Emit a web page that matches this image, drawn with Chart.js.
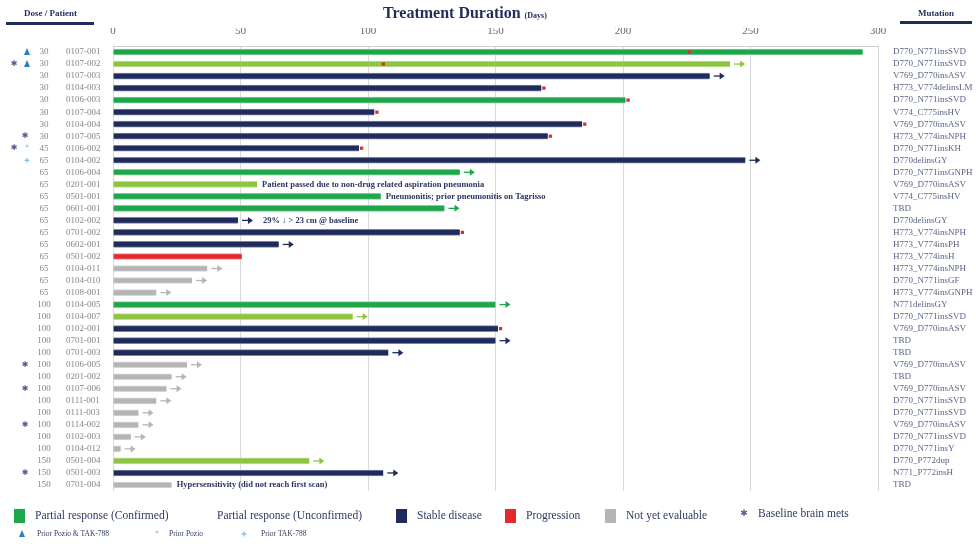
<!DOCTYPE html>
<html>
<head>
<meta charset="utf-8">
<script src="https://cdn.jsdelivr.net/npm/chart.js@4"></script>
<style>
  html,body{margin:0;padding:0;background:#fff;}
  #wrap{width:976px;height:544px;position:relative;}
</style>
</head>
<body>
<div id="wrap"><canvas id="c" width="976" height="544"></canvas></div>
<script>
// ---------------- DATA ----------------
const doses = [30,30,30,30,30,30,30,30,45,65,65,65,65,65,65,65,65,65,65,65,65,100,100,100,100,100,100,100,100,100,100,100,100,100,150,150,150];
const patients = ['0107-001','0107-002','0107-003','0104-003','0106-003','0107-004','0104-004','0107-005','0106-002','0104-002','0106-004','0201-001','0501-001','0601-001','0102-002','0701-002','0602-001','0501-002','0104-011','0104-010','0108-001','0104-005','0104-007','0102-001','0701-001','0701-003','0106-005','0201-002','0107-006','0111-001','0111-003','0114-002','0102-003','0104-012','0501-004','0501-003','0701-004'];
const mutations = ['D770_N771insSVD','D770_N771insSVD','V769_D770insASV','H773_V774delinsLM','D770_N771insSVD','V774_C775insHV','V769_D770insASV','H773_V774insNPH','D770_N771insKH','D770delinsGY','D770_N771insGNPH','V769_D770insASV','V774_C775insHV','TBD','D770delinsGY','H773_V774insNPH','H773_V774insPH','H773_V774insH','H773_V774insNPH','D770_N771insGF','H773_V774insGNPH','N771delinsGY','D770_N771insSVD','V769_D770insASV','TBD','TBD','V769_D770insASV','TBD','V769_D770insASV','D770_N771insSVD','D770_N771insSVD','V769_D770insASV','D770_N771insSVD','D770_N771insY','D770_P772dup','N771_P772insH','TBD'];
const durations = [294,242,234,168,201,102.5,184,170.5,96.5,248,136,56.5,105,130,49,136,65,50.5,37,31,17,150,94,151,150,108,29,23,21,17,10,10,7,3,77,106,23];
const statuses = ['PRC','PRU','SD','SD','PRC','SD','SD','SD','SD','SD','PRC','PRU','PRC','PRC','SD','SD','SD','PD','NE','NE','NE','PRC','PRU','SD','SD','SD','NE','NE','NE','NE','NE','NE','NE','NE','PRU','SD','NE'];
const ongoing = [0,1,1,0,0,0,0,0,0,1,1,0,0,1,1,0,1,0,1,1,1,1,1,0,1,1,1,1,1,1,1,1,1,1,1,1,0];
const progressionDay = [226,106,null,169,202,103.5,185,171.5,97.5,null,null,null,null,null,null,137,null,null,null,null,null,null,null,152,null,null,null,null,null,null,null,null,null,null,null,null,null];
const brainMets = [0,1,0,0,0,0,0,1,1,0,0,0,0,0,0,0,0,0,0,0,0,0,0,0,0,0,1,0,1,0,0,1,0,0,0,1,0];
const priorTx = ['both','both','','','','','','','pozio','tak','','','','','','','','','','','','','','','','','','','','','','','','','','',''];
const notes = {11:'Patient passed due to non-drug related aspiration pneumonia',12:'Pneumonitis; prior pneumonitis on Tagrisso',14:'29% \u2193 > 23 cm @ baseline',36:'Hypersensitivity (did not reach first scan)'};
const xTicks = [0,50,100,150,200,250,300];
const legendItems = [['PRC','Partial response (Confirmed)'],['PRU','Partial response (Unconfirmed)'],['SD','Stable disease'],['PD','Progression'],['NE','Not yet evaluable']];
const priorLegend = [['both','Prior Pozio & TAK-788'],['pozio','Prior Pozio'],['tak','Prior TAK-788']];

// ---------------- STYLE ----------------
const fill = {PRC:'#1ea64b',PRU:'#8dc440',SD:'#1f2b5b',PD:'#e5282d',NE:'#b5b5b5'};
const edge = {PRC:'#7fcf96',PRU:'#c2e09a',SD:'#7a84a3',PD:'#f08a8c',NE:'#d6d6d6'};
const SERIF = '"Liberation Serif", "Times New Roman", serif';

const overlay = {
  id:'overlay',
  afterDraw(chart){
    const ctx = chart.ctx;
    const xs = chart.scales.x, ys = chart.scales.y;
    ctx.save();
    // title
    ctx.fillStyle = '#1f2d5a';
    ctx.textBaseline = 'alphabetic';
    ctx.font = 'bold 16px ' + SERIF;
    ctx.textAlign = 'left';
    const t = 'Treatment Duration';
    const tw = ctx.measureText(t).width;
    ctx.fillText(t, 383, 18);
    ctx.font = 'bold 8px ' + SERIF;
    ctx.fillText('(Days)', 383 + tw + 4, 18);
    // headers
    ctx.font = 'bold 9px ' + SERIF;
    ctx.fillText('Dose / Patient', 24, 16);
    ctx.fillText('Mutation', 918, 16);
    ctx.fillStyle = '#1f2d5a';
    ctx.fillRect(6, 22, 88, 3);
    ctx.fillRect(900, 21, 72, 3);

    // rows
    patients.forEach((p,i)=>{
      const y = ys.getPixelForValue(i);
      ctx.font = '9px ' + SERIF;
      ctx.fillStyle = '#858585';
      ctx.textBaseline = 'middle';
      ctx.textAlign = 'center';
      ctx.fillText(String(doses[i]), 44, y);
      ctx.textAlign = 'left';
      ctx.fillText(p, 66, y);
      ctx.fillStyle = '#5b6485';
      ctx.fillText(mutations[i], 893, y);
      // prior markers
      const pt = priorTx[i];
      if (pt) drawPrior(ctx, pt, 27, y);
      if (brainMets[i]) drawStar(ctx, pt ? 14 : 25, y, 8);
      // arrows
      const endX = xs.getPixelForValue(durations[i]);
      if (ongoing[i]) {
        ctx.strokeStyle = fill[statuses[i]];
        ctx.fillStyle = fill[statuses[i]];
        ctx.lineWidth = 1.3;
        ctx.beginPath(); ctx.moveTo(endX+4, y); ctx.lineTo(endX+11, y); ctx.stroke();
        ctx.beginPath(); ctx.moveTo(endX+10, y-3.5); ctx.lineTo(endX+15, y); ctx.lineTo(endX+10, y+3.5); ctx.closePath(); ctx.fill();
      }
      if (notes[i]) {
        ctx.font = 'bold 8.5px ' + SERIF;
        ctx.fillStyle = '#2b3560';
        ctx.textAlign = 'left';
        ctx.fillText(notes[i], endX + (ongoing[i] ? 25 : 5), y);
      }
    });

    // legend row 1
    let lx = [14, 217, 396, 505, 605];
    ctx.textBaseline = 'middle';
    legendItems.forEach((it,k)=>{
      const [s, label] = it;
      if (s !== 'PRU') { ctx.fillStyle = fill[s]; ctx.fillRect(lx[k], 509, 11, 14); }
      ctx.fillStyle = '#2f3a63';
      ctx.font = '11.5px ' + SERIF;
      ctx.textAlign = 'left';
      ctx.fillText(label, s === 'PRU' ? lx[k] : lx[k] + 21, 516);
    });
    drawStar(ctx, 744, 514, 9);
    ctx.fillStyle = '#2f3a63';
    ctx.font = '11.5px ' + SERIF;
    ctx.fillText('Baseline brain mets', 758, 514);
    // legend row 2
    const px = [[22,37],[157,169],[244,261]];
    priorLegend.forEach((it,k)=>{
      drawPrior(ctx, it[0], px[k][0], 534);
      ctx.fillStyle = '#2f3a63';
      ctx.font = '7.5px ' + SERIF;
      ctx.textAlign = 'left';
      ctx.textBaseline = 'middle';
      ctx.fillText(it[1], px[k][1], 534);
    });
    ctx.restore();
  }
};
function drawPrior(ctx, pt, x, y){
  ctx.save();
  if (pt === 'both') {
    ctx.fillStyle = '#2b7fc0';
    ctx.beginPath(); ctx.moveTo(x, y-4); ctx.lineTo(x+3, y+3); ctx.lineTo(x-3, y+3); ctx.closePath(); ctx.fill();
  } else if (pt === 'pozio') {
    ctx.fillStyle = '#8bbde3';
    ctx.font = '8px "DejaVu Sans"'; ctx.textAlign='center'; ctx.textBaseline='middle';
    ctx.fillText('*', x, y+1);
  } else if (pt === 'tak') {
    ctx.strokeStyle = '#6aaee0'; ctx.lineWidth = 1;
    ctx.beginPath(); ctx.moveTo(x-2.5,y); ctx.lineTo(x+2.5,y); ctx.moveTo(x,y-2.5); ctx.lineTo(x,y+2.5); ctx.stroke();
  }
  ctx.restore();
}
function drawStar(ctx, x, y, size){
  ctx.save();
  ctx.fillStyle = '#51608a';
  ctx.font = size + 'px "DejaVu Sans"';
  ctx.textAlign = 'center'; ctx.textBaseline = 'middle';
  ctx.fillText('\u2731', x, y);
  ctx.restore();
}

new Chart(document.getElementById('c'), {
  data: {
    labels: patients,
    datasets: [
      {
        type:'bar',
        data: durations,
        backgroundColor: statuses.map(s=>fill[s]),
        borderColor: statuses.map(s=>edge[s]),
        borderWidth: {top:1,bottom:1,left:0,right:0},
        borderSkipped: false,
        barThickness: 6,
        order: 2
      },
      {
        type:'scatter',
        data: progressionDay.map((v,i)=> v===null ? null : {x:v, y:patients[i]}).filter(d=>d),
        pointStyle:'rect',
        radius: 2.3,
        backgroundColor:'#e5282d',
        borderWidth:0,
        order: 1
      }
    ]
  },
  options: {
    indexAxis:'y',
    responsive:false,
    animation:false,
    layout:{padding:{left:113, right:98, top:28, bottom:53}},
    plugins:{legend:{display:false}, tooltip:{enabled:false}},
    scales:{
      x:{
        position:'top', min:0, max:300,
        afterBuildTicks(s){ s.ticks = xTicks.map(v=>({value:v})); },
        afterFit(s){ s.height = 18; },
        grid:{color:'#d9d9d9', lineWidth:1, drawTicks:false},
        border:{display:true, color:'#cfcfcf'},
        ticks:{font:{family:'"Liberation Serif"', size:11}, color:'#666', padding:8}
      },
      y:{
        type:'category', display:false, offset:true,
        grid:{display:false}
      }
    }
  },
  plugins:[overlay]
});
</script>
</body>
</html>
